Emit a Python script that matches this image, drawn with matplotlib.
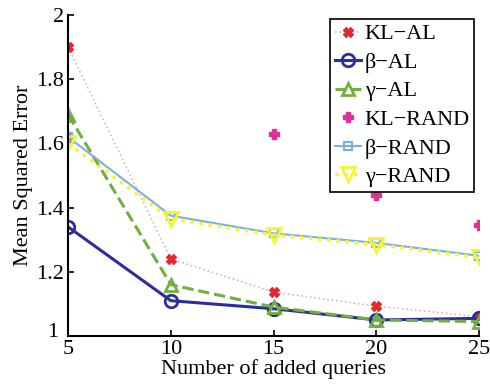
import matplotlib.pyplot as plt
from matplotlib.transforms import ScaledTranslation

plt.rcParams.update({'font.family': ['Liberation Serif', 'DejaVu Serif']})

QUERIES = [5, 10, 15, 20, 25]
KL_AL = [1.90, 1.24, 1.137, 1.093, 1.06]
BETA_AL = [1.34, 1.11, 1.085, 1.05, 1.055]
GAMMA_AL = [1.69, 1.16, 1.09, 1.05, 1.045]
KL_RAND = [1.62, 2.2, 1.63, 1.44, 1.345]
BETA_RAND = [1.62, 1.375, 1.32, 1.29, 1.25]
GAMMA_RAND = [1.60, 1.365, 1.315, 1.285, 1.245]

fig = plt.figure(figsize=(4.9, 3.88), dpi=100)
ax = fig.add_axes([0.139, 0.134, 0.839, 0.827])

ax.plot(QUERIES, KL_AL, color='#d6b8b8', ls=':', lw=1.2, marker='X', ms=7,
        mfc='#e8262c', mec='#e8262c', label='KL\u2212AL')
ax.plot(QUERIES, BETA_AL, color='#2e2e9a', ls='-', lw=2.2, marker='o', ms=9,
        mfc='none', mew=2, label='\u03b2\u2212AL')
ax.plot(QUERIES, GAMMA_AL, color='#70b040', ls='--', lw=2.2, marker='^', ms=9,
        mfc='none', mew=2, label='\u03b3\u2212AL')
ax.plot(QUERIES, KL_RAND, ls='none', marker='P', ms=7,
        mfc='#e0309a', mec='#e0309a', label='KL\u2212RAND')
ax.plot(QUERIES, BETA_RAND, color='#7ab0dc', ls='-', lw=1.5, marker='s', ms=6,
        mfc='none', mew=1.5, label='\u03b2\u2212RAND')
ax.plot(QUERIES, GAMMA_RAND, color='#f5f530', ls=':', lw=2.5, marker='v', ms=10,
        mfc='none', mew=2, label='\u03b3\u2212RAND')

ax.set_xlim(5, 25)
ax.set_ylim(1, 2)
ax.set_xticks(QUERIES)
ax.set_yticks([1, 1.2, 1.4, 1.6, 1.8, 2])
ax.set_yticklabels(['1', '1.2', '1.4', '1.6', '1.8', '2'])
ax.tick_params(direction='in', labelsize=16, width=1.2, length=4)
ax.tick_params(axis='x', pad=3)
ax.tick_params(axis='y', pad=3)
ax.spines['top'].set_visible(False)
ax.spines['right'].set_visible(False)
for s in ['left', 'bottom']:
    ax.spines[s].set_linewidth(1.5)
ax.set_xlabel('Number of added queries', fontsize=16, labelpad=0)
ax.set_ylabel('Mean Squared Error', fontsize=16, labelpad=2)

# nudge the corner "1" so it clears the "5" below it
lbl = ax.get_yticklabels()[0]
lbl.set_transform(lbl.get_transform() + ScaledTranslation(-4 / 72, 4 / 72, fig.dpi_scale_trans))

leg = ax.legend(loc='upper right', bbox_to_anchor=(0.988, 0.987), fontsize=16,
                fancybox=False, framealpha=1, edgecolor='black',
                handlelength=1.2, handletextpad=0.15, borderpad=0.2,
                labelspacing=0.36, borderaxespad=0.0)
leg.get_frame().set_linewidth(1.2)

fig.savefig('out.png', dpi=100)
